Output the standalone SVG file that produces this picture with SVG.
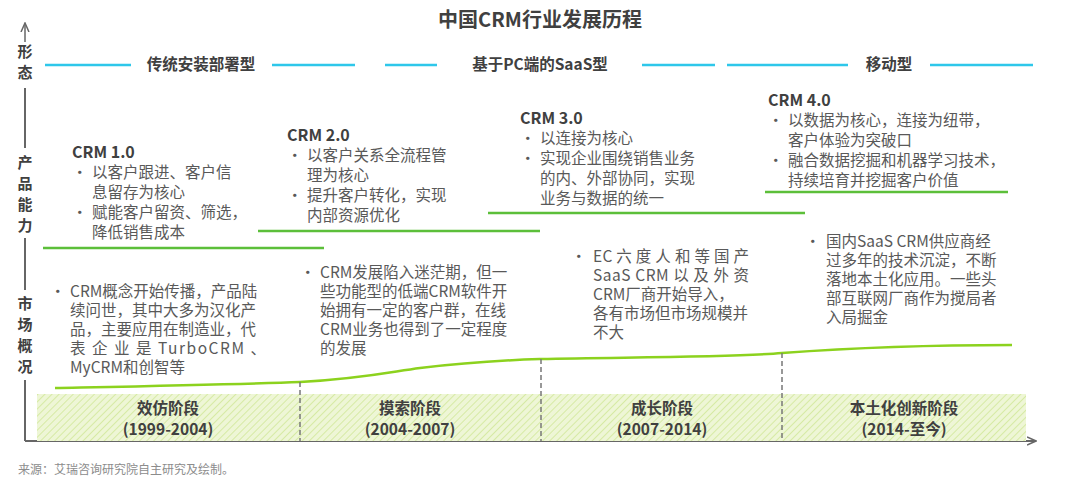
<svg xmlns="http://www.w3.org/2000/svg" width="1080" height="480" viewBox="0 0 1080 480">
<style>
text{font-family:"Noto Sans CJK SC","Noto Sans",sans-serif;fill:#595959}
.t{font-size:15.5px}
.b{font-weight:bold;fill:#404040}
.ax{font-size:15px;font-weight:bold;fill:#404040;text-anchor:middle}
.cy{stroke:#2ec7ea;stroke-width:2.5}
.gr{stroke:#5cbf3a;stroke-width:2.5}
.st{font-size:15.5px;font-weight:bold;fill:#404040;text-anchor:middle}
</style>
<defs>
<pattern id="h" width="5" height="5" patternUnits="userSpaceOnUse" patternTransform="rotate(45)">
<rect width="5" height="5" fill="#eef6d6"/><line x1="0" y1="0" x2="0" y2="5" stroke="#d6eaa4" stroke-width="2"/>
</pattern>
<marker id="a" markerWidth="10" markerHeight="10" refX="8" refY="5" orient="auto" markerUnits="userSpaceOnUse"><path d="M0,1 L9,5 L0,9" fill="none" stroke="#666" stroke-width="1.5"/></marker>
</defs>
<text x="540" y="27" text-anchor="middle" style="font-size:20px;font-weight:bold;fill:#404040">中国CRM行业发展历程</text>
<g id="axis" stroke="#666" stroke-width="2" fill="none">
<line x1="25" y1="88" x2="25" y2="148"/><line x1="25" y1="238" x2="25" y2="290"/><line x1="25" y1="380" x2="25" y2="441"/>
<line x1="25" y1="42" x2="25" y2="24" marker-end="url(#a)" stroke-width="1.5"/>
<line x1="25" y1="441" x2="1035" y2="441" marker-end="url(#a)"/>
</g>
<g id="axis-labels">
<text class="ax" x="25" y="57">形</text><text class="ax" x="25" y="78">态</text>
<text class="ax" x="25" y="168">产</text><text class="ax" x="25" y="189">品</text><text class="ax" x="25" y="210">能</text><text class="ax" x="25" y="231">力</text>
<text class="ax" x="25" y="309">市</text><text class="ax" x="25" y="330">场</text><text class="ax" x="25" y="351">概</text><text class="ax" x="25" y="372">况</text>
</g>
<g id="forms">
<line class="cy" x1="45" y1="65" x2="131" y2="65"/><line class="cy" x1="272" y1="65" x2="355" y2="65"/>
<line class="cy" x1="385" y1="65" x2="437" y2="65"/><line class="cy" x1="642" y1="65" x2="715" y2="65"/>
<line class="cy" x1="727" y1="65" x2="848" y2="65"/><line class="cy" x1="930" y1="65" x2="1033" y2="65"/>
<text class="st" x="201" y="70">传统安装部署型</text>
<text class="st" x="540" y="70">基于PC端的SaaS型</text>
<text class="st" x="889" y="70">移动型</text>
</g>
<g id="band">
<rect x="37" y="394" width="989" height="47" fill="url(#h)"/>
</g>
<g id="connectors">
<line class="gr" x1="43" y1="248" x2="324" y2="248"/>
<line class="gr" x1="258" y1="231" x2="540" y2="231"/>
<line class="gr" x1="488" y1="213" x2="805" y2="213"/>
<line class="gr" x1="765" y1="192" x2="1008" y2="192"/>
<path d="M55,388 C150,386 250,384 300,382 C360,379 390,372 420,368 C470,362 510,360 540,359 C650,357 740,357 782,353 C850,348 930,345 1012,345" fill="none" stroke="#8cd21e" stroke-width="2.5"/>
<g stroke="#777" stroke-width="1.5" stroke-dasharray="5,3">
<line x1="300" y1="382" x2="300" y2="441"/><line x1="541" y1="359" x2="541" y2="441"/><line x1="782" y1="353" x2="782" y2="441"/>
</g>
</g>
<g id="crm1"><text class="t b" x="72" y="158" style="font-size:16px">CRM 1.0</text>
<text class="t" x="72" y="178">•</text><text class="t" x="92" y="178">以客户跟进、客户信</text><text class="t" x="92" y="198">息留存为核心</text>
<text class="t" x="72" y="218">•</text><text class="t" x="92" y="218">赋能客户留资、筛选，</text><text class="t" x="92" y="238">降低销售成本</text></g>
<g id="crm2"><text class="t b" x="287" y="141" style="font-size:16px">CRM 2.0</text>
<text class="t" x="287" y="161">•</text><text class="t" x="307" y="161">以客户关系全流程管</text><text class="t" x="307" y="181">理为核心</text>
<text class="t" x="287" y="201">•</text><text class="t" x="307" y="201">提升客户转化，实现</text><text class="t" x="307" y="221">内部资源优化</text></g>
<g id="crm3"><text class="t b" x="520" y="124" style="font-size:16px">CRM 3.0</text>
<text class="t" x="520" y="144">•</text><text class="t" x="540" y="144">以连接为核心</text>
<text class="t" x="520" y="164">•</text><text class="t" x="540" y="164">实现企业围绕销售业务</text><text class="t" x="540" y="184">的内、外部协同，实现</text><text class="t" x="540" y="204">业务与数据的统一</text></g>
<g id="crm4"><text class="t b" x="768" y="106" style="font-size:16px">CRM 4.0</text>
<text class="t" x="768" y="126">•</text><text class="t" x="788" y="126">以数据为核心，连接为纽带，</text><text class="t" x="788" y="146">客户体验为突破口</text>
<text class="t" x="768" y="166">•</text><text class="t" x="788" y="166">融合数据挖掘和机器学习技术，</text><text class="t" x="788" y="186">持续培育并挖掘客户价值</text></g>
<g id="m1"><text class="t" x="50" y="297">•</text>
<text class="t" x="70" y="297">CRM概念开始传播，产品陆</text><text class="t" x="70" y="316">续问世，其中大多为汉化产</text><text class="t" x="70" y="335">品，主要应用在制造业，代</text><text class="t" x="70" y="354" textLength="196">表 企 业 是 TurboCRM 、</text><text class="t" x="70" y="373">MyCRM和创智等</text></g>
<g id="m2"><text class="t" x="300" y="278">•</text>
<text class="t" x="320" y="278">CRM发展陷入迷茫期，但一</text><text class="t" x="320" y="297">些功能型的低端CRM软件开</text><text class="t" x="320" y="316">始拥有一定的客户群，在线</text><text class="t" x="320" y="335">CRM业务也得到了一定程度</text><text class="t" x="320" y="354">的发展</text></g>
<g id="m3"><text class="t" x="571" y="262">•</text>
<text class="t" x="593" y="262" textLength="156">EC 六 度 人 和 等 国 产</text><text class="t" x="593" y="281" textLength="156">SaaS  CRM 以 及 外 资</text><text class="t" x="593" y="300">CRM厂商开始导入，</text><text class="t" x="593" y="319">各有市场但市场规模并</text><text class="t" x="593" y="338">不大</text></g>
<g id="m4"><text class="t" x="805" y="247">•</text>
<text class="t" x="826" y="247">国内SaaS CRM供应商经</text><text class="t" x="826" y="266">过多年的技术沉淀，不断</text><text class="t" x="826" y="285">落地本土化应用。一些头</text><text class="t" x="826" y="304">部互联网厂商作为搅局者</text><text class="t" x="826" y="323">入局掘金</text></g>
<g id="stages">
<text class="st" x="168" y="414">效仿阶段</text><text class="st" x="168" y="435">(1999-2004)</text>
<text class="st" x="410" y="414">摸索阶段</text><text class="st" x="410" y="435">(2004-2007)</text>
<text class="st" x="662" y="414">成长阶段</text><text class="st" x="662" y="435">(2007-2014)</text>
<text class="st" x="904" y="414">本土化创新阶段</text><text class="st" x="904" y="435">(2014-至今)</text>
</g>
<text x="18" y="474" style="font-size:12px;fill:#8c8c8c">来源：艾瑞咨询研究院自主研究及绘制。</text>
</svg>
